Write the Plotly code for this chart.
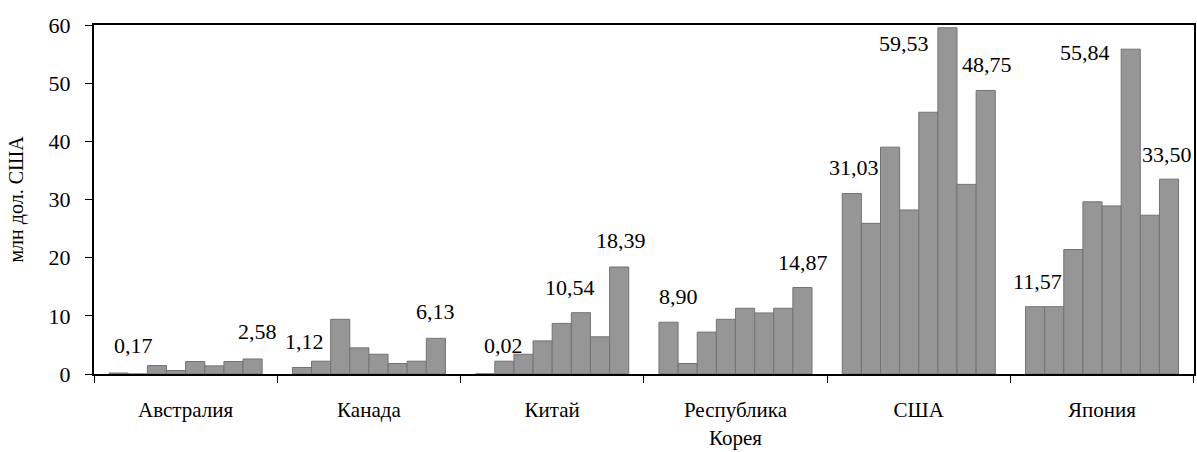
import plotly.graph_objects as go

# ---- data ----
countries = ["Австралия", "Канада", "Китай", "Республика<br>Корея", "США", "Япония"]
australia = [0.17, 0.0, 1.45, 0.60, 2.15, 1.40, 2.15, 2.58]
canada = [1.12, 2.20, 9.40, 4.50, 3.40, 1.80, 2.20, 6.13]
china = [0.02, 2.20, 3.40, 5.70, 8.70, 10.54, 6.40, 18.39]
korea = [8.90, 1.80, 7.20, 9.40, 11.30, 10.50, 11.30, 14.87]
usa = [31.03, 25.90, 39.00, 28.20, 45.00, 59.53, 32.60, 48.75]
japan = [11.57, 11.57, 21.40, 29.60, 28.90, 55.84, 27.30, 33.50]
by_country = [australia, canada, china, korea, usa, japan]

# which bars carry a value label (index within a country group)
labelled = [[0, 7], [0, 7], [0, 5, 7], [0, 7], [0, 5, 7], [0, 5, 7]]

# ---- styling / label placement (pixels) ----
label_offsets = {
    (0, 0): (15, 28), (0, 7): (5, 27),
    (1, 0): (3, 26), (1, 7): (0, 27),
    (2, 0): (18, 28), (2, 5): (-11, 25), (2, 7): (2, 27),
    (3, 0): (10, 26), (3, 7): (1, 25),
    (4, 0): (2, 26), (4, 5): (-43, -16), (4, 7): (1, 26),
    (5, 0): (2, 25), (5, 5): (-46, -3), (5, 7): (-2, 25),
}
BARGAP = 0.165
NBARS = 8
FONT = "Liberation Serif"

fig = go.Figure()
for j in range(NBARS):
    fig.add_trace(go.Bar(
        x=countries,
        y=[vals[j] for vals in by_country],
        name=str(j + 1),
        marker=dict(color="#969696", line=dict(color="#737373", width=1)),
        showlegend=False,
    ))

w = (1 - BARGAP) / NBARS
annotations = []
for i, vals in enumerate(by_country):
    for j in labelled[i]:
        dx, dy = label_offsets[(i, j)]
        annotations.append(dict(
            x=i + (j - (NBARS - 1) / 2) * w, y=vals[j], xref="x", yref="y",
            text=f"{vals[j]:.2f}".replace(".", ","), showarrow=False,
            xanchor="center", yanchor="middle", xshift=dx, yshift=dy,
            font=dict(family=FONT, size=22, color="black"),
        ))

fig.update_layout(
    width=1197, height=452,
    margin=dict(l=94, r=1, t=25, b=78),
    paper_bgcolor="white", plot_bgcolor="white",
    barmode="group", bargap=BARGAP, bargroupgap=0,
    font=dict(family=FONT, size=22, color="black"),
    annotations=annotations,
)
fig.update_xaxes(
    type="category", tickson="boundaries", ticks="outside", ticklen=7,
    tickcolor="black", showline=True, linecolor="black", linewidth=2,
    mirror=True, showgrid=False, ticklabelstandoff=16,
    tickfont=dict(family=FONT, size=21, color="black"),
)
fig.update_yaxes(
    range=[0, 60], dtick=10, ticks="outside", ticklen=7, tickcolor="black",
    showline=True, linecolor="black", linewidth=2, mirror=True,
    showgrid=False, zeroline=False, ticklabelstandoff=10,
    tickfont=dict(family=FONT, size=22, color="black"),
    title=dict(text="млн дол. США", standoff=20,
               font=dict(family=FONT, size=20, color="black")),
)

fig.write_html(
    "out.html",
    config={"displayModeBar": False},
    post_script="document.body.style.margin='0';document.body.style.overflow='hidden';",
)
